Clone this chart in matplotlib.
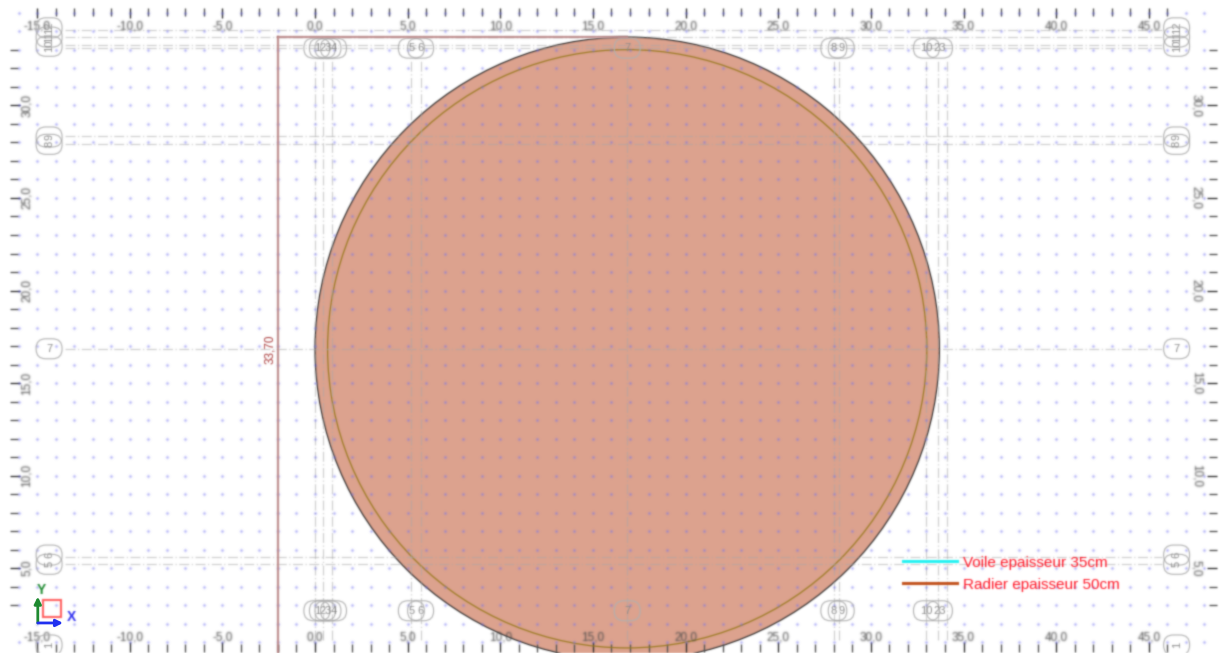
import numpy as np
import matplotlib
matplotlib.use("Agg")
import matplotlib.pyplot as plt
from matplotlib.patches import Circle, Rectangle, FancyBboxPatch, Patch
from matplotlib.lines import Line2D
from matplotlib.text import Text
from matplotlib.collections import Collection

plt.rcParams['font.family'] = ['Liberation Sans', 'DejaVu Sans']

# --- data (drawing units, metres) ---
x_major = [-15, -10, -5, 0, 5, 10, 15, 20, 25, 30, 35, 40, 45]
x_minor = list(range(-15, 47))
y_major = [5, 10, 15, 20, 25, 30]
y_minor = list(range(3, 34))
dots_x = list(range(-16, 49))
dots_y = list(range(1, 36))
centre = (16.85, 16.85)
slab_radius = 16.85
wall_radius = 16.17
dimension_x = -2.0
dimension_label = "33,70"
grid_x = [0.0, 0.45, 0.9, 5.2, 5.7, 16.85, 28.0, 28.3, 33.0, 33.6, 34.1]
grid_y = [34.1, 33.7, 33.25, 33.1, 28.35, 27.9, 16.85, 5.6, 5.2]
bubble_top_x = [(0.1, "1"), (0.4, "2"), (0.7, "3"), (1.0, "4"), (5.2, "5"), (5.7, "6"),
                (16.85, "7"), (28.0, "8"), (28.4, "9"), (33.0, "10"), (33.7, "23")]
bubble_side_y = [(34.2, "12"), (33.7, "11"), (33.2, "10"), (28.3, "9"), (27.9, "8"),
                 (16.85, "7"), (5.7, "6"), (5.2, "5"), (0.84, "1")]
legend_labels = ["Voile epaisseur 35cm", "Radier epaisseur 50cm"]
legend_colors = ["#22F2F2", "#C2521C"]
legend_y = [5.4, 4.2]
legend_x = (31.73, 34.65)
legend_text_x = 34.97

fig = plt.figure(figsize=(12.19, 6.53), dpi=100, facecolor="white")
ax = fig.add_axes([10/1219, 1/653, 1207/1219, 644/653])
ax.set_xlim(-16.46, 48.68)
ax.set_ylim(0.46, 35.27)
for s in ax.spines.values():
    s.set_visible(False)

GREY = "#A8A8A8"
TXT = "#4A4A4A"

# slab and wall
ax.add_patch(Circle(centre, slab_radius, fc="#DCA28E", ec="#222222", lw=0.8, clip_on=False, zorder=1))
ax.add_patch(Circle(centre, wall_radius, fc="none", ec="#9A7A20", lw=0.9, clip_on=False, zorder=2))

# construction grid
DASH = (0, (8, 2, 1, 2))
for v in grid_x:
    ax.plot([v, v], [1.1, 32.4], color=GREY, alpha=0.55, lw=0.9, ls=DASH, zorder=3)
for v in grid_y:
    ax.plot([-13.5, 45.7], [v, v], color=GREY, alpha=0.55, lw=0.9, ls=DASH, zorder=3)

# dot grid
gx, gy = np.meshgrid(dots_x, dots_y)
ax.scatter(gx.ravel(), gy.ravel(), s=2.2, color="#7070F0", linewidths=0, zorder=4, clip_on=False)

# ticks
ax.set_xticks(x_major)
ax.set_xticks(x_minor, minor=True)
ax.set_yticks(y_major)
ax.set_yticks(y_minor, minor=True)
ax.tick_params(axis="both", which="major", direction="in", length=7.5, width=1.0, color="#333333",
               bottom=True, top=True, left=True, right=True,
               labelbottom=False, labeltop=False, labelleft=False, labelright=False)
ax.tick_params(axis="both", which="minor", direction="in", length=5.5, width=1.0, color="#555555",
               bottom=True, top=True, left=True, right=True)
fmt = lambda v: f"{v:.1f}".replace(".", ",")
for v in x_major:
    ax.annotate(fmt(v), (v, 0), xycoords=("data", "axes fraction"), xytext=(0, 10.5),
                textcoords="offset points", ha="center", va="center", fontsize=8.5, color=TXT)
    ax.annotate(fmt(v), (v, 1), xycoords=("data", "axes fraction"), xytext=(0, -13.5),
                textcoords="offset points", ha="center", va="center", fontsize=8.5, color=TXT)
for v in y_major:
    ax.annotate(fmt(v), (0, v), xycoords=("axes fraction", "data"), xytext=(12, 0),
                textcoords="offset points", ha="center", va="center", fontsize=8.5, color=TXT, rotation=90)
    ax.annotate(fmt(v), (1, v), xycoords=("axes fraction", "data"), xytext=(-15, 0),
                textcoords="offset points", ha="center", va="center", fontsize=8.5, color=TXT, rotation=270)

# grid bubbles
BW, BH = 1.4, 1.08
def bubble(cx, cy, label, rot):
    ax.add_patch(FancyBboxPatch((cx - BW/2 + 0.5, cy - BH/2 + 0.5), BW - 1.0, BH - 1.0,
                                boxstyle="round,pad=0.5,rounding_size=0.52",
                                fc="none", ec="#B0B0B0", lw=0.8, zorder=5, clip_on=False))
    ax.text(cx, cy, label, ha="center", va="center", fontsize=8, color="#8A8A8A",
            rotation=rot, zorder=5, clip_on=False)
for row_y in (33.1, 2.69):
    for v, t in bubble_top_x:
        bubble(v, row_y, t, 0)
for col_x in (-14.35, 46.5):
    for v, t in bubble_side_y:
        bubble(col_x, v, t, 0 if t == "7" else 90)

# dimension
dim_col = "#C09090"
ax.plot([dimension_x, dimension_x], [0.46, centre[1] + slab_radius], color=dim_col, lw=1.6, zorder=6, clip_on=False)
ax.plot([dimension_x, centre[0]], [centre[1] + slab_radius] * 2, color=dim_col, lw=1.6, zorder=6)
ax.text(dimension_x - 0.45, centre[1], dimension_label, rotation=90, ha="center", va="center",
        fontsize=8.5, color="#A83838", zorder=6)

# thickness legend
for y, c, t in zip(legend_y, legend_colors, legend_labels):
    ax.plot(legend_x, [y, y], color=c, lw=2.2, zorder=7)
    ax.text(legend_text_x, y - 0.13, t, color="#FF1525", fontsize=11, ha="left", va="center", zorder=7)

# UCS icon
ax.add_patch(Rectangle((-14.68, 2.35), 0.97, 0.92, fc="none", ec="#FF6060", lw=1.5, zorder=8))
ax.annotate("", xy=(-14.96, 3.45), xytext=(-14.96, 2.03),
            arrowprops=dict(arrowstyle="-|>", color="#1E8A30", lw=2.0, mutation_scale=10, shrinkA=0, shrinkB=0), zorder=8)
ax.annotate("", xy=(-13.6, 2.03), xytext=(-14.96, 2.03),
            arrowprops=dict(arrowstyle="-|>", color="#2030F0", lw=2.0, mutation_scale=10, shrinkA=0, shrinkB=0), zorder=8)
ax.text(-14.75, 3.83, "Y", color="#1E8A30", fontsize=10, fontweight="bold", ha="center", va="center", zorder=8)
ax.text(-13.15, 2.33, "X", color="#3030F0", fontsize=10, fontweight="bold", ha="center", va="center", zorder=8)

# soft scan-like blur, matching the reference's low resolution
KERNEL = np.array([0.03, 0.2, 0.54, 0.2, 0.03])
PAD = 4
def soft(img, dpi):
    rgba = np.pad(img, ((PAD, PAD), (PAD, PAD), (0, 0)))
    a = rgba[..., 3:4]
    pm = np.concatenate([rgba[..., :3] * a, a], axis=2)
    for axis in (0, 1):
        pm = np.apply_along_axis(lambda m: np.convolve(m, KERNEL, mode="same"), axis, pm)
    alpha = pm[..., 3:4]
    rgb = np.where(alpha > 1e-4, pm[..., :3] / np.maximum(alpha, 1e-4), 0)
    return np.clip(np.concatenate([rgb, alpha], axis=2) + 0.002, 0, 1), -PAD, -PAD

for art in fig.findobj(lambda o: isinstance(o, (Line2D, Patch, Text, Collection))):
    if art is ax.patch or art is fig.patch:
        continue
    if isinstance(art, Text) and not art.get_text():
        continue
    art.set_agg_filter(soft)

fig.savefig("out.png", dpi=100, facecolor="white")
